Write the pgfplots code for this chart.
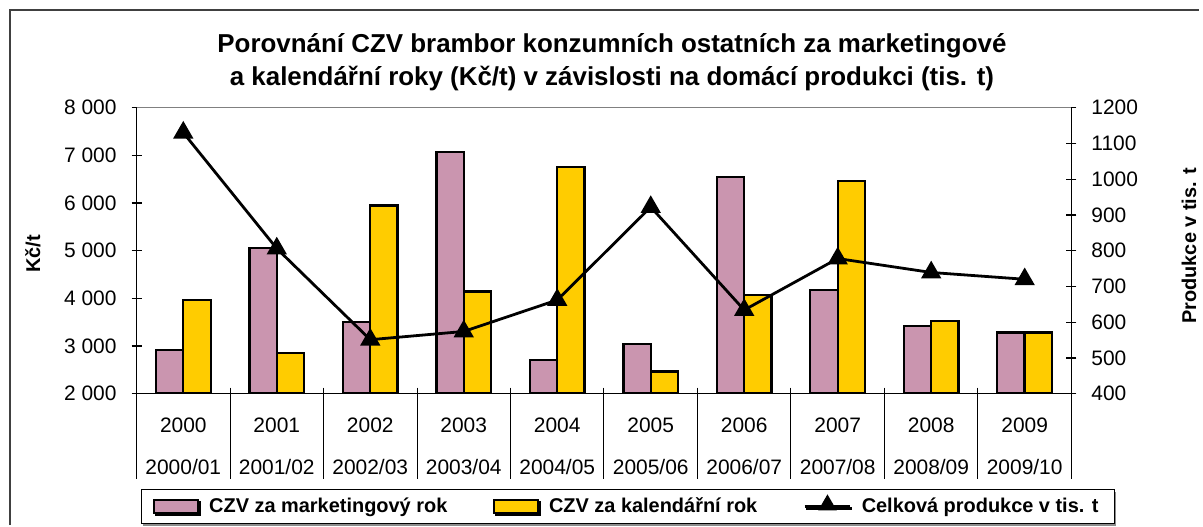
\documentclass[border=0pt]{standalone}
\usepackage{fontspec}
\setmainfont{Liberation Sans}
\usepackage{pgfplots}
\usepackage{pgfplotstable}
\pgfplotsset{compat=1.18}
\usetikzlibrary{calc,shadows}

\definecolor{czvpink}{HTML}{993366}
\definecolor{czvyellow}{HTML}{FFCC00}

\pgfplotsset{
  swatch legend/.style={legend image code/.code={%
    \draw[##1, line width=1pt] (0pt,-3.2pt) rectangle (22pt,3.2pt);}},
  tri legend/.style={legend image code/.code={%
    \draw[##1, mark=none] (0pt,0pt) -- (23pt,0pt);
    \draw[##1, only marks] plot coordinates {(11.5pt,0.6pt)};}},
}

% x = category index, mkt/kal in Kc/t, prod in tis. t
\pgfplotstableread{
x mkt kal prod
0 2910 3970 1130
1 5050 2850 806
2 3500 5945 551
3 7070 4140 574
4 2710 6760 662
5 3040 2465 922
6 6550 4070 634
7 4175 6460 778
8 3420 3525 739
9 3280 3280 720
}\czvdata

\begin{document}
\begin{tikzpicture}
\path (0,0) rectangle (601.5pt,-263.5pt);
\draw[line width=1pt, black!75] (5pt,-263.5pt) -- (5pt,-5pt) -- (601.5pt,-5pt);

\node[align=center, font=\bfseries\fontsize{13}{16.5}\selectfont] at (307pt,-31pt)
  {Porovnání CZV brambor konzumních ostatních za marketingové\\a kalendářní roky (Kč/t) v závislosti na domácí produkci (tis. t)};
\node[rotate=90, font=\bfseries\fontsize{10}{12}\selectfont] at (16.5pt,-127.5pt) {Kč/t};
\node[rotate=90, font=\bfseries\fontsize{10}{12}\selectfont] at (596.5pt,-123.3pt) {Produkce v tis. t};

\begin{axis}[
  name=main, at={(68.5pt,-197.5pt)}, anchor=south west,
  scale only axis, width=469pt, height=143.5pt,
  xmin=-0.5, xmax=9.5, ymin=2000, ymax=8000,
  axis y line*=left, axis x line*=bottom,
  axis line style={line width=0.6pt},
  ybar=0pt, bar width=13.75pt,
  xtick={0,...,9},
  xticklabels={{2000\\[8.4pt]2000/01},{2001\\[8.4pt]2001/02},{2002\\[8.4pt]2002/03},
    {2003\\[8.4pt]2003/04},{2004\\[8.4pt]2004/05},{2005\\[8.4pt]2005/06},
    {2006\\[8.4pt]2006/07},{2007\\[8.4pt]2007/08},{2008\\[8.4pt]2008/09},{2009\\[8.4pt]2009/10}},
  xtick style={draw=none},
  xticklabel style={align=center, anchor=north, yshift=-6pt},
  ytick={2000,3000,...,8000},
  tick align=center, major tick length=5pt,
  ytick style={black, line width=0.6pt},
  tick label style={font=\fontsize{10.5}{12.6}\selectfont},
  /pgf/number format/assume math mode=true,
  /pgf/number format/1000 sep={\ },
  yticklabel style={xshift=-4pt},
  legend style={at={(0.5256,-0.3937)}, anchor=center, legend columns=3,
    draw=black, line width=0.6pt, font=\bfseries\fontsize{10}{12}\selectfont,
    inner xsep=6pt, inner ysep=2pt,
    drop shadow={shadow xshift=0.8pt, shadow yshift=-1.2pt, opacity=1, fill=black!45},
    /tikz/every odd column/.append style={column sep=3pt},
    /tikz/every even column/.append style={column sep=21pt}},
]
\addplot[draw=black, line width=1.2pt, fill=czvpink!52!white, swatch legend]
  table[x=x, y=mkt] {\czvdata};
\addlegendentry{CZV za marketingový rok}
\addplot[draw=black, line width=1.2pt, fill=czvyellow, swatch legend]
  table[x=x, y=kal] {\czvdata};
\addlegendentry{CZV za kalendářní rok}
\addlegendimage{black, line width=1.4pt, mark=triangle*, mark size=4pt, tri legend}
\addlegendentry{Celková produkce v tis. t}
\end{axis}

\begin{axis}[
  at={(68.5pt,-197.5pt)}, anchor=south west,
  scale only axis, width=469pt, height=143.5pt,
  xmin=-0.5, xmax=9.5, ymin=400, ymax=1200,
  axis y line*=right, axis x line=none,
  axis line style={line width=0.6pt},
  ytick={400,500,...,1200},
  tick align=center, major tick length=5pt,
  ytick style={black, line width=0.6pt},
  tick label style={font=\fontsize{10.5}{12.6}\selectfont},
  /pgf/number format/assume math mode=true,
  /pgf/number format/1000 sep={},
  yticklabel style={xshift=4pt},
]
\addplot[black, line width=1.4pt, mark=triangle*, mark size=4.5pt]
  table[x=x, y=prod] {\czvdata};
\end{axis}

\draw[gray, line width=0.6pt] (main.north west) -- (main.north east);
\foreach \k in {0,...,10}
  \draw[line width=0.5pt] ($(main.south west)!\k/10!(main.south east)$) ++(0,3pt) -- ++(0,-46pt);
\end{tikzpicture}
\end{document}
